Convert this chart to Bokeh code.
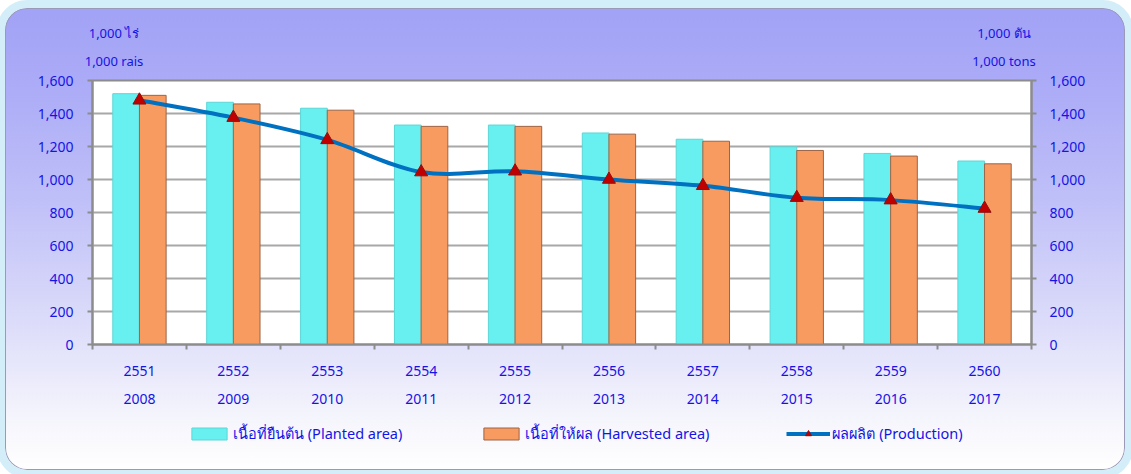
from bokeh.plotting import figure
from bokeh.layouts import column
from bokeh.models import (Range1d, LinearAxis, FixedTicker, NumeralTickFormatter,
                          Legend, LegendItem, Grid, Div)
from bokeh.embed import file_html
from bokeh.resources import INLINE

# ---------------- data ----------------
thai_years = ["2551", "2552", "2553", "2554", "2555", "2556", "2557", "2558", "2559", "2560"]
years = ["2008", "2009", "2010", "2011", "2012", "2013", "2014", "2015", "2016", "2017"]
planted = [1520, 1468, 1432, 1330, 1330, 1282, 1244, 1198, 1158, 1112]
harvested = [1510, 1458, 1420, 1322, 1322, 1275, 1232, 1176, 1142, 1095]
production = [1480, 1375, 1240, 1045, 1050, 1000, 962, 890, 875, 824]
y_ticks = [0, 200, 400, 600, 800, 1000, 1200, 1400, 1600]
left_units = ["1,000 ไร่", "1,000 rais"]
right_units = ["1,000 ตัน", "1,000 tons"]
series_names = ["เนื้อที่ยืนต้น (Planted area)", "เนื้อที่ให้ผล (Harvested area)", "ผลผลิต (Production)"]

FONT = "Tahoma, 'Noto Sans', 'DejaVu Sans', sans-serif"
BLUE = "#1414E6"
GRID = "#A8A8A8"
AXIS = "#8C8C8C"
CYAN = "#68F0F0"
ORANGE = "#F89B60"
LINE = "#0070C0"
RED = "#C00000"

W = 1120
n = len(years)
xs = list(range(n))
boundaries = [i - 0.5 for i in range(n + 1)]
off = 0.142
bw = 0.284

# ---------------- unit labels strip ----------------
def span(txt, cx, cy):
    return ('<span style="position:absolute;left:%dpx;top:%dpx;transform:translate(-50%%,-50%%);'
            'white-space:nowrap;">%s</span>' % (cx, cy, txt))

html = ('<div style="position:relative;width:%dpx;height:62px;font-family:%s;font-size:13px;'
        'color:%s;">' % (W, FONT.replace('"', "'"), BLUE)
        + span(left_units[0], 109, 25) + span(left_units[1], 109, 53)
        + span(right_units[0], 999, 25) + span(right_units[1], 999, 53)
        + '</div>')
top = Div(text=html, width=W, height=62, margin=0)

# ---------------- main chart ----------------
p = figure(width=W, height=340, output_backend="svg", toolbar_location=None,
           x_range=Range1d(-0.5, n - 0.5), y_range=Range1d(0, 1600),
           x_axis_type=None, y_axis_type=None,
           min_border_left=87, min_border_right=94, min_border_top=10,
           min_border_bottom=66, title=None)
p.extra_y_ranges = {"prod": Range1d(0, 1600)}
p.border_fill_alpha = 0
p.background_fill_color = "white"
p.outline_line_color = AXIS
p.outline_line_width = 2


def style_y(ax, standoff):
    ax.ticker = FixedTicker(ticks=y_ticks)
    ax.formatter = NumeralTickFormatter(format="0,0")
    ax.axis_line_color = AXIS
    ax.axis_line_width = 2
    ax.major_tick_line_color = AXIS
    ax.major_tick_line_width = 2
    ax.major_tick_out = 5
    ax.major_tick_in = 0
    ax.minor_tick_line_color = None
    ax.major_label_standoff = standoff
    ax.major_label_text_font = FONT
    ax.major_label_text_font_size = "14px"
    ax.major_label_text_color = BLUE


yl = LinearAxis()
style_y(yl, 14)
p.add_layout(yl, "left")
yr = LinearAxis(y_range_name="prod")
style_y(yr, 13)
p.add_layout(yr, "right")

xa = LinearAxis()
xa.ticker = FixedTicker(ticks=xs, minor_ticks=boundaries)
xa.major_label_overrides = {i: t for i, t in zip(xs, thai_years)}
xa.axis_line_color = AXIS
xa.axis_line_width = 2
xa.major_tick_line_color = None
xa.major_tick_out = 0
xa.major_tick_in = 0
xa.minor_tick_line_color = AXIS
xa.minor_tick_line_width = 2
xa.minor_tick_out = 5
xa.minor_tick_in = 0
xa.major_label_standoff = 16
xa.major_label_text_font = FONT
xa.major_label_text_font_size = "14px"
xa.major_label_text_color = BLUE
p.add_layout(xa, "below")

xb = LinearAxis()
xb.ticker = FixedTicker(ticks=xs, minor_ticks=[])
xb.major_label_overrides = {i: t for i, t in zip(xs, years)}
xb.axis_line_color = None
xb.major_tick_line_color = None
xb.minor_tick_line_color = None
xb.major_tick_out = 0
xb.major_tick_in = 0
xb.minor_tick_out = 0
xb.minor_tick_in = 0
xb.major_label_standoff = 15
xb.major_label_text_font = FONT
xb.major_label_text_font_size = "14px"
xb.major_label_text_color = BLUE
p.add_layout(xb, "below")

p.add_layout(Grid(dimension=1, ticker=FixedTicker(ticks=y_ticks),
                  grid_line_color=GRID, grid_line_width=2))


def draw_series(fig, y_name):
    r1 = fig.vbar(x=[x - off for x in xs], top=planted, width=bw,
                  fill_color=CYAN, line_color="#5CD6D6", line_width=1)
    r2 = fig.vbar(x=[x + off for x in xs], top=harvested, width=bw,
                  fill_color=ORANGE, line_color="#9C6446", line_width=1)
    x0, y0, x1, y1, cx0, cy0, cx1, cy1 = [], [], [], [], [], [], [], []
    for i in range(n - 1):
        a = i - 1 if i > 0 else i
        b = i + 2 if i + 2 < n else i + 1
        x0.append(xs[i]); y0.append(production[i])
        x1.append(xs[i + 1]); y1.append(production[i + 1])
        cx0.append(xs[i] + (xs[i + 1] - xs[a]) / 6.0)
        cy0.append(production[i] + (production[i + 1] - production[a]) / 6.0)
        cx1.append(xs[i + 1] - (xs[b] - xs[i]) / 6.0)
        cy1.append(production[i + 1] - (production[b] - production[i]) / 6.0)
    r3 = fig.bezier(x0=x0, y0=y0, x1=x1, y1=y1, cx0=cx0, cy0=cy0, cx1=cx1, cy1=cy1,
                    line_color=LINE, line_width=4, y_range_name=y_name)
    r4 = fig.scatter(x=xs, y=production, marker="triangle", size=13,
                     fill_color=RED, line_color="#8E1010", line_width=1,
                     y_range_name=y_name)
    return r1, r2, r3, r4


draw_series(p, "prod")

# ---------------- legend strip (same series, hidden; only their legend keys show) ----------------
leg = figure(width=W, height=60, output_backend="svg", toolbar_location=None,
             x_range=Range1d(30, 40), y_range=Range1d(-4000, -3000),
             x_axis_type=None, y_axis_type=None,
             min_border_left=0, min_border_right=0, min_border_top=0, min_border_bottom=0)
leg.extra_y_ranges = {"prod": Range1d(-4000, -3000)}
leg.border_fill_alpha = 0
leg.background_fill_alpha = 0
leg.outline_line_color = None
l1, l2, l3, l4 = draw_series(leg, "prod")
for r in (l1, l2, l3, l4):
    r.visible = False
legend = Legend(items=[
    LegendItem(label=series_names[0], renderers=[l1]),
    LegendItem(label=series_names[1], renderers=[l2]),
    LegendItem(label=series_names[2], renderers=[l3, l4]),
], orientation="horizontal", location=(95, 25), spacing=77,
    glyph_width=44, glyph_height=15, label_standoff=2, label_height=20,
    label_text_font=FONT, label_text_font_size="14.5px", label_text_color=BLUE,
    border_line_color=None, background_fill_alpha=0, margin=0, padding=0,
    inactive_fill_alpha=0)
leg.add_layout(legend)

layout = column(top, p, leg, spacing=0)
layout.margin = (8, 6, 4, 5)
layout.styles = {
    "background": "linear-gradient(to bottom, #A2A2F6 0%, #AAAAF7 15%, #BEBEF8 40%, #DCDCFA 68%, #F4F4FC 88%, #FFFFFF 100%)",
    "border-radius": "22px",
    "box-shadow": "inset 0 0 0 1px #9A9AB8",
    "outline": "8px solid #D4EEF9",
}

open("out.html", "w").write(file_html(layout, INLINE))
